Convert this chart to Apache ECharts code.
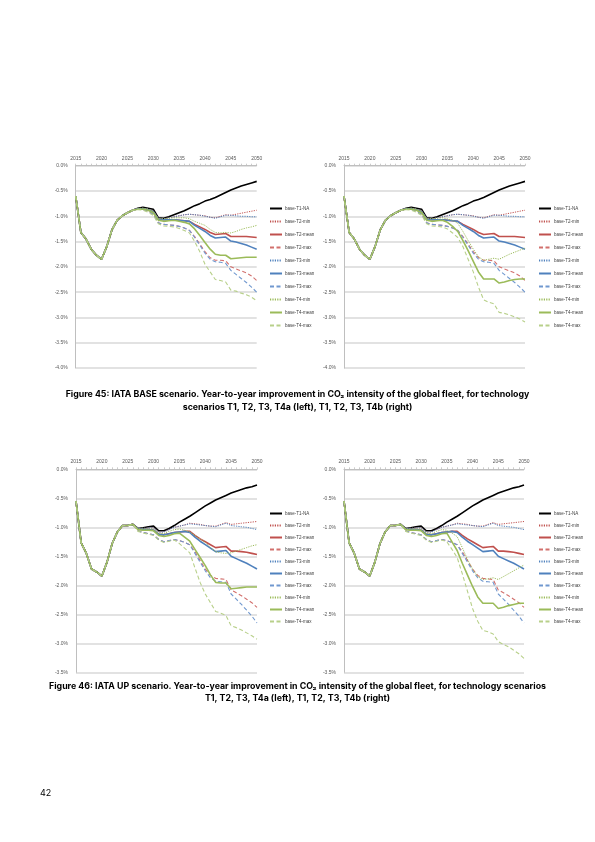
<!DOCTYPE html>
<html>
<head>
<meta charset="utf-8">
<script src="https://cdn.jsdelivr.net/npm/echarts@6/dist/echarts.min.js"></script>
<style>
html,body{margin:0;padding:0;background:#fff;}
#page{width:595px;height:842px;}
</style>
</head>
<body>
<div id="page"></div>
<script>
const years = [2015,2016,2017,2018,2019,2020,2021,2022,2023,2024,2025,2026,2027,2028,2029,2030,2031,2032,2033,2034,2035,2036,2037,2038,2039,2040,2041,2042,2043,2044,2045,2046,2047,2048,2049,2050];
const xTicks = [2015,2020,2025,2030,2035,2040,2045,2050];
const seriesNames = ['base-T1-NA','base-T2-min','base-T2-mean','base-T2-max','base-T3-min','base-T3-mean','base-T3-max','base-T4-min','base-T4-mean','base-T4-max'];

// IATA BASE scenario
const baseT1   = [-0.60,-1.32,-1.45,-1.65,-1.77,-1.85,-1.60,-1.27,-1.08,-0.99,-0.93,-0.88,-0.84,-0.82,-0.84,-0.86,-1.03,-1.04,-1.01,-0.97,-0.93,-0.89,-0.84,-0.79,-0.75,-0.70,-0.67,-0.63,-0.58,-0.53,-0.48,-0.44,-0.40,-0.37,-0.34,-0.31];
const baseT2min= [-0.60,-1.32,-1.45,-1.65,-1.77,-1.85,-1.60,-1.27,-1.08,-0.99,-0.93,-0.88,-0.85,-0.84,-0.86,-0.90,-1.05,-1.05,-1.03,-1.01,-0.99,-0.97,-0.96,-0.97,-0.98,-0.99,-1.02,-1.03,-1.00,-0.97,-0.98,-0.96,-0.94,-0.92,-0.90,-0.88];
const baseT2mean=[-0.60,-1.32,-1.45,-1.65,-1.77,-1.85,-1.60,-1.27,-1.08,-0.99,-0.93,-0.88,-0.85,-0.85,-0.87,-0.91,-1.06,-1.07,-1.07,-1.07,-1.08,-1.09,-1.10,-1.16,-1.21,-1.26,-1.32,-1.36,-1.35,-1.34,-1.40,-1.40,-1.40,-1.40,-1.41,-1.42];
const baseT2max= [-0.60,-1.32,-1.45,-1.65,-1.77,-1.85,-1.60,-1.27,-1.08,-0.99,-0.93,-0.88,-0.86,-0.87,-0.90,-0.96,-1.13,-1.16,-1.17,-1.18,-1.20,-1.23,-1.28,-1.40,-1.55,-1.70,-1.82,-1.87,-1.87,-1.88,-2.00,-2.04,-2.08,-2.12,-2.18,-2.27];
const baseT3min= [-0.60,-1.32,-1.45,-1.65,-1.77,-1.85,-1.60,-1.27,-1.08,-0.99,-0.93,-0.88,-0.85,-0.84,-0.86,-0.90,-1.05,-1.05,-1.03,-1.01,-0.99,-0.97,-0.96,-0.97,-0.98,-1.00,-1.02,-1.04,-1.01,-0.98,-0.98,-0.99,-1.00,-1.00,-1.01,-1.01];
const baseT3mean=[-0.60,-1.32,-1.45,-1.65,-1.77,-1.85,-1.60,-1.27,-1.08,-0.99,-0.93,-0.88,-0.85,-0.85,-0.87,-0.91,-1.06,-1.07,-1.07,-1.07,-1.08,-1.09,-1.10,-1.18,-1.24,-1.30,-1.38,-1.43,-1.42,-1.41,-1.49,-1.51,-1.54,-1.57,-1.61,-1.65];
const baseT3max= [-0.60,-1.32,-1.45,-1.65,-1.77,-1.85,-1.60,-1.27,-1.08,-0.99,-0.93,-0.88,-0.86,-0.87,-0.90,-0.96,-1.13,-1.16,-1.17,-1.18,-1.20,-1.23,-1.28,-1.42,-1.57,-1.73,-1.85,-1.90,-1.91,-1.93,-2.07,-2.15,-2.23,-2.31,-2.40,-2.50];
const baseT4aMin=[-0.60,-1.32,-1.45,-1.65,-1.77,-1.85,-1.60,-1.27,-1.08,-0.99,-0.93,-0.88,-0.85,-0.84,-0.86,-0.90,-1.05,-1.05,-1.04,-1.03,-1.03,-1.03,-1.05,-1.10,-1.14,-1.18,-1.26,-1.32,-1.33,-1.32,-1.33,-1.30,-1.26,-1.23,-1.21,-1.18];
const baseT4aMean=[-0.60,-1.32,-1.45,-1.65,-1.77,-1.85,-1.60,-1.27,-1.08,-0.99,-0.93,-0.88,-0.86,-0.86,-0.88,-0.93,-1.08,-1.10,-1.09,-1.08,-1.10,-1.12,-1.15,-1.25,-1.38,-1.52,-1.65,-1.75,-1.77,-1.77,-1.84,-1.83,-1.82,-1.81,-1.81,-1.81];
const baseT4aMax=[-0.60,-1.32,-1.45,-1.65,-1.77,-1.85,-1.60,-1.27,-1.08,-0.99,-0.93,-0.88,-0.87,-0.88,-0.92,-0.98,-1.15,-1.19,-1.20,-1.21,-1.24,-1.28,-1.33,-1.50,-1.70,-1.95,-2.10,-2.25,-2.27,-2.30,-2.46,-2.48,-2.52,-2.55,-2.60,-2.67];
const baseT4bMin=[-0.60,-1.32,-1.45,-1.65,-1.77,-1.85,-1.60,-1.27,-1.08,-0.99,-0.93,-0.88,-0.85,-0.84,-0.86,-0.90,-1.05,-1.05,-1.04,-1.03,-1.05,-1.08,-1.14,-1.30,-1.48,-1.65,-1.80,-1.87,-1.85,-1.83,-1.85,-1.80,-1.75,-1.71,-1.67,-1.63];
const baseT4bMean=[-0.60,-1.32,-1.45,-1.65,-1.77,-1.85,-1.60,-1.27,-1.08,-0.99,-0.93,-0.88,-0.86,-0.86,-0.88,-0.93,-1.08,-1.10,-1.09,-1.08,-1.12,-1.20,-1.30,-1.48,-1.68,-1.89,-2.10,-2.24,-2.24,-2.24,-2.32,-2.30,-2.27,-2.25,-2.24,-2.24];
const baseT4bMax=[-0.60,-1.32,-1.45,-1.65,-1.77,-1.85,-1.60,-1.27,-1.08,-0.99,-0.93,-0.88,-0.87,-0.88,-0.92,-0.98,-1.15,-1.19,-1.20,-1.21,-1.25,-1.33,-1.42,-1.60,-1.85,-2.10,-2.40,-2.65,-2.70,-2.73,-2.90,-2.92,-2.95,-2.99,-3.03,-3.09];

// IATA UP scenario
const upT1   = [-0.55,-1.27,-1.45,-1.72,-1.77,-1.84,-1.60,-1.28,-1.08,-0.97,-0.97,-0.95,-1.02,-1.01,-0.99,-0.98,-1.06,-1.06,-1.02,-0.97,-0.91,-0.86,-0.81,-0.75,-0.69,-0.63,-0.58,-0.53,-0.49,-0.45,-0.41,-0.38,-0.35,-0.32,-0.30,-0.27];
const upT2min= [-0.55,-1.27,-1.45,-1.72,-1.77,-1.84,-1.60,-1.28,-1.08,-0.97,-0.97,-0.95,-1.02,-1.02,-1.01,-1.01,-1.08,-1.08,-1.04,-1.00,-0.98,-0.96,-0.93,-0.94,-0.95,-0.97,-0.98,-0.98,-0.95,-0.92,-0.95,-0.94,-0.93,-0.92,-0.91,-0.90];
const upT2mean=[-0.55,-1.27,-1.45,-1.72,-1.77,-1.84,-1.60,-1.28,-1.08,-0.97,-0.97,-0.95,-1.03,-1.04,-1.04,-1.05,-1.12,-1.13,-1.11,-1.09,-1.08,-1.07,-1.07,-1.14,-1.20,-1.25,-1.30,-1.35,-1.34,-1.33,-1.41,-1.41,-1.42,-1.43,-1.45,-1.47];
const upT2max= [-0.55,-1.27,-1.45,-1.72,-1.77,-1.84,-1.60,-1.28,-1.08,-0.97,-0.97,-0.95,-1.06,-1.09,-1.11,-1.13,-1.21,-1.25,-1.23,-1.21,-1.23,-1.26,-1.30,-1.42,-1.57,-1.72,-1.83,-1.88,-1.89,-1.90,-2.08,-2.13,-2.18,-2.24,-2.30,-2.38];
const upT3min= [-0.55,-1.27,-1.45,-1.72,-1.77,-1.84,-1.60,-1.28,-1.08,-0.97,-0.97,-0.95,-1.02,-1.02,-1.01,-1.01,-1.08,-1.08,-1.04,-1.00,-0.98,-0.96,-0.94,-0.95,-0.96,-0.97,-0.98,-0.99,-0.96,-0.93,-0.97,-0.98,-0.99,-1.00,-1.02,-1.04];
const upT3mean=[-0.55,-1.27,-1.45,-1.72,-1.77,-1.84,-1.60,-1.28,-1.08,-0.97,-0.97,-0.95,-1.03,-1.04,-1.04,-1.05,-1.12,-1.13,-1.11,-1.09,-1.08,-1.07,-1.09,-1.17,-1.24,-1.30,-1.36,-1.42,-1.41,-1.40,-1.50,-1.54,-1.58,-1.62,-1.67,-1.72];
const upT3max= [-0.55,-1.27,-1.45,-1.72,-1.77,-1.84,-1.60,-1.28,-1.08,-0.97,-0.97,-0.95,-1.06,-1.09,-1.11,-1.13,-1.21,-1.25,-1.23,-1.21,-1.23,-1.26,-1.30,-1.45,-1.60,-1.75,-1.87,-1.93,-1.94,-1.95,-2.15,-2.24,-2.33,-2.43,-2.53,-2.65];
const upT4aMin=[-0.55,-1.27,-1.45,-1.72,-1.77,-1.84,-1.60,-1.28,-1.08,-0.97,-0.97,-0.95,-1.03,-1.03,-1.03,-1.03,-1.10,-1.11,-1.07,-1.04,-1.03,-1.05,-1.08,-1.14,-1.20,-1.26,-1.35,-1.42,-1.44,-1.45,-1.44,-1.41,-1.38,-1.35,-1.32,-1.30];
const upT4aMean=[-0.55,-1.27,-1.45,-1.72,-1.77,-1.84,-1.60,-1.28,-1.08,-0.97,-0.97,-0.95,-1.04,-1.05,-1.05,-1.06,-1.14,-1.16,-1.14,-1.11,-1.10,-1.17,-1.24,-1.38,-1.52,-1.66,-1.82,-1.95,-1.96,-1.96,-2.06,-2.05,-2.04,-2.03,-2.03,-2.03];
const upT4aMax=[-0.55,-1.27,-1.45,-1.72,-1.77,-1.84,-1.60,-1.28,-1.08,-0.97,-0.97,-0.95,-1.07,-1.10,-1.12,-1.14,-1.22,-1.26,-1.24,-1.22,-1.28,-1.36,-1.44,-1.70,-1.95,-2.15,-2.30,-2.45,-2.48,-2.52,-2.70,-2.73,-2.77,-2.82,-2.87,-2.93];
const upT4bMin=[-0.55,-1.27,-1.45,-1.72,-1.77,-1.84,-1.60,-1.28,-1.08,-0.97,-0.97,-0.95,-1.03,-1.03,-1.03,-1.03,-1.10,-1.11,-1.07,-1.04,-1.05,-1.10,-1.16,-1.35,-1.55,-1.72,-1.85,-1.90,-1.89,-1.87,-1.90,-1.85,-1.80,-1.75,-1.70,-1.65];
const upT4bMean=[-0.55,-1.27,-1.45,-1.72,-1.77,-1.84,-1.60,-1.28,-1.08,-0.97,-0.97,-0.95,-1.04,-1.05,-1.05,-1.06,-1.14,-1.16,-1.14,-1.11,-1.10,-1.25,-1.40,-1.62,-1.82,-2.02,-2.20,-2.31,-2.31,-2.31,-2.40,-2.38,-2.35,-2.33,-2.31,-2.31];
const upT4bMax=[-0.55,-1.27,-1.45,-1.72,-1.77,-1.84,-1.60,-1.28,-1.08,-0.97,-0.97,-0.95,-1.07,-1.10,-1.12,-1.14,-1.22,-1.26,-1.24,-1.22,-1.25,-1.38,-1.52,-1.80,-2.10,-2.40,-2.62,-2.78,-2.80,-2.84,-2.97,-3.02,-3.06,-3.12,-3.18,-3.26];

const caption45 = ['Figure 45: IATA BASE scenario. Year-to-year improvement in CO\u2082 intensity of the global fleet, for technology','scenarios T1, T2, T3, T4a (left), T1, T2, T3, T4b (right)'];
const caption46 = ['Figure 46: IATA UP scenario. Year-to-year improvement in CO\u2082 intensity of the global fleet, for technology scenarios','T1, T2, T3, T4a (left), T1, T2, T3, T4b (right)'];
const pageNumber = '42';

const panels = [
  {grid:{left:75.7, top:165.7, width:181, height:202.3}, ymin:-4, legend:{left:269, top:206, gap:8}, data:[baseT1,baseT2min,baseT2mean,baseT2max,baseT3min,baseT3mean,baseT3max,baseT4aMin,baseT4aMean,baseT4aMax]},
  {grid:{left:344, top:165.7, width:181, height:202.3}, ymin:-4, legend:{left:538, top:206, gap:8}, data:[baseT1,baseT2min,baseT2mean,baseT2max,baseT3min,baseT3mean,baseT3max,baseT4bMin,baseT4bMean,baseT4bMax]},
  {grid:{left:76, top:469.3, width:181, height:203}, ymin:-3.5, legend:{left:269, top:511, gap:7}, data:[upT1,upT2min,upT2mean,upT2max,upT3min,upT3mean,upT3max,upT4aMin,upT4aMean,upT4aMax]},
  {grid:{left:344, top:469.3, width:180, height:203}, ymin:-3.5, legend:{left:538, top:511, gap:7}, data:[upT1,upT2min,upT2mean,upT2max,upT3min,upT3mean,upT3max,upT4bMin,upT4bMean,upT4bMax]}
];

const styles = [
  {color:'#000000', type:'solid', width:1.6},
  {color:'#c0504d', type:[1.2,1.2], width:1},
  {color:'#c0504d', type:'solid', width:1.6},
  {color:'#d2706d', type:[4,2.5], width:1.1},
  {color:'#4f81bd', type:[1.2,1.2], width:1},
  {color:'#4f81bd', type:'solid', width:1.6},
  {color:'#7098cf', type:[4,2.5], width:1.1},
  {color:'#9bbb59', type:[1.2,1.2], width:1},
  {color:'#9bbb59', type:'solid', width:1.6},
  {color:'#b8d08a', type:[4,2.5], width:1.1}
];

const axisFont = 'Liberation Sans';
const option = {
  animation:false,
  backgroundColor:'#ffffff',
  grid:[], xAxis:[], yAxis:[], legend:[], series:[],
  graphic:[]
};

panels.forEach((p, gi) => {
  option.grid.push(Object.assign({containLabel:false}, p.grid));
  option.xAxis.push({
    type:'value', gridIndex:gi, min:2015, max:2050, interval:5, position:'top',
    axisLine:{show:true, onZero:false, lineStyle:{color:'#bfbfbf', width:1}},
    axisTick:{show:true, length:2, inside:false, lineStyle:{color:'#bfbfbf', width:0.8}},
    minorTick:{show:true, splitNumber:5, length:2, lineStyle:{color:'#bfbfbf', width:0.8}},
    axisLabel:{show:true, fontSize:5, color:'#595959', margin:5, fontFamily:axisFont,
      formatter:v => xTicks.indexOf(v) >= 0 ? String(v) : ''},
    splitLine:{show:false}
  });
  option.yAxis.push({
    type:'value', gridIndex:gi, min:p.ymin, max:0, interval:0.5,
    axisLine:{show:true, lineStyle:{color:'#bfbfbf', width:1}},
    axisTick:{show:false},
    axisLabel:{fontSize:5, color:'#595959', margin:8, fontFamily:axisFont,
      formatter:v => v.toFixed(1) + '%'},
    splitLine:{show:true, lineStyle:{color:'#d9d9d9', width:1.5}}
  });
  option.legend.push({
    orient:'vertical', left:p.legend.left, top:p.legend.top,
    itemWidth:12, itemHeight:5, itemGap:p.legend.gap, padding:0,
    itemStyle:{opacity:0, color:'rgba(0,0,0,0)', borderWidth:0},
    textStyle:{fontSize:4.5, color:'#404040', fontFamily:axisFont, padding:[0,0,0,-2]},
    selectedMode:false,
    data:seriesNames
  });
  seriesNames.forEach((name, si) => {
    const st = styles[si];
    option.series.push({
      type:'line', name:name, xAxisIndex:gi, yAxisIndex:gi,
      symbol:'none', smooth:false, z:2+si,
      lineStyle:{color:st.color, type:st.type, width:st.width},
      itemStyle:{color:st.color},
      data:years.map((y, i) => [y, p.data[si][i]])
    });
  });
});

function caption(lines, y0, gap){
  lines.forEach((t, i) => {
    option.graphic.push({type:'text', x:297.5, y:y0 + i*gap,
      style:{text:t, textAlign:'center', textVerticalAlign:'middle',
        font:'bold 8.8px Inter, "Noto Sans", sans-serif', fill:'#000000'}});
  });
}
caption(caption45, 394.5, 12.5);
caption(caption46, 686, 12.5);
option.graphic.push({type:'text', x:40, y:793, style:{text:pageNumber, textVerticalAlign:'middle', font:'9px Inter, "Noto Sans", sans-serif', fill:'#000000'}});

const chart = echarts.init(document.getElementById('page'), null, {renderer:'canvas', width:595, height:842});
chart.setOption(option);
</script>
</body>
</html>
